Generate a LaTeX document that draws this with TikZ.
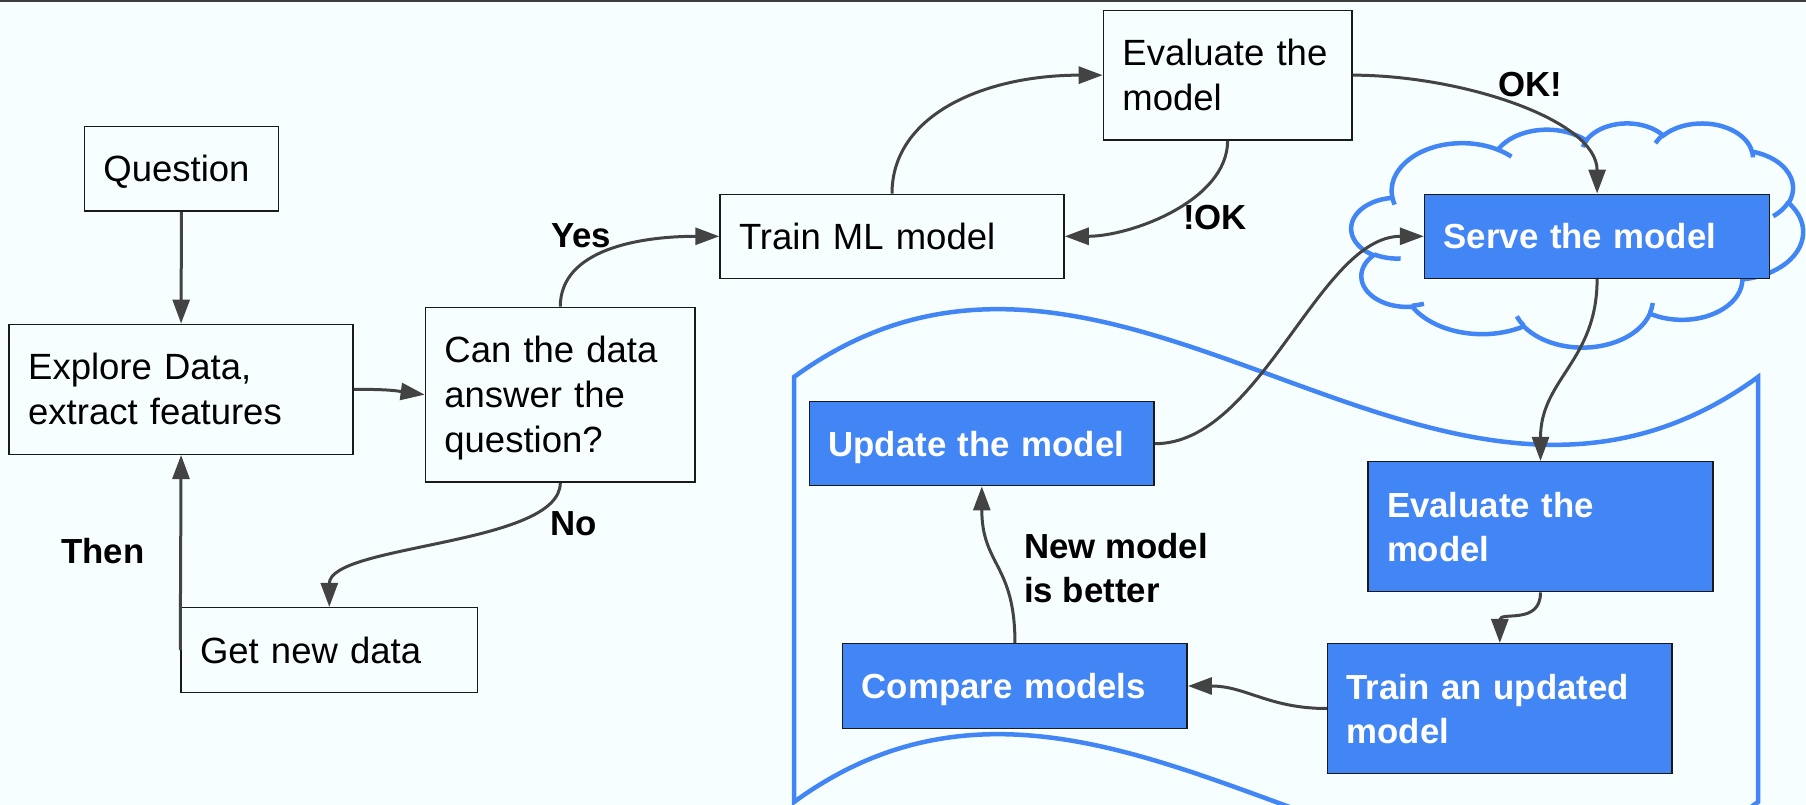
\documentclass[tikz,border=0pt]{standalone}
\usepackage{fontspec}
\setmainfont{Liberation Sans}
\usetikzlibrary{arrows.meta}

\definecolor{bg}{HTML}{F7FEFF}
\definecolor{gblue}{HTML}{4285F4}
\definecolor{arrowgray}{HTML}{434343}
\definecolor{edge}{HTML}{1A1A1A}
\definecolor{topline}{HTML}{3C3C3C}

% struts that centre the cap height of each line in its box
\newcommand\rstrut{\noindent\vrule width 0pt height 35.6pt depth 9.4pt\relax}
\newcommand\bstrut{\noindent\vrule width 0pt height 34.5pt depth 9.5pt\relax}

% cloud outline: arcs given with visual angles, turned into parametric ones
\newcommand\cloudang[5]{%
  \pgfmathsetmacro\cloudtmpa{atan2((#2)*sin(#4),(#3)*cos(#4))}%
  \pgfmathsetmacro\cloudtmpb{atan2((#2)*sin((#4)+(#5)),(#3)*cos((#4)+(#5)))}%
  \pgfmathsetmacro\cloudtmpd{mod(\cloudtmpb-\cloudtmpa+720,360)}%
  \expandafter\xdef\csname clS#1\endcsname{\cloudtmpa}%
  \expandafter\xdef\csname clD#1\endcsname{\cloudtmpd}%
}

\tikzset{
  plainbox/.style={draw=edge, line width=1.5pt, fill=bg, rectangle,
    inner xsep=19pt, inner ysep=0pt, align=left,
    font=\fontsize{36.5}{45}\selectfont,
    execute at begin node=\rstrut, execute at end node=\rstrut},
  bluebox/.style={draw=edge, line width=1.5pt, fill=gblue, text=white, rectangle,
    inner xsep=19pt, inner ysep=0pt, align=left,
    font=\fontsize{34.8}{44}\selectfont\bfseries,
    execute at begin node=\bstrut, execute at end node=\bstrut},
  tag/.style={inner sep=0pt, align=left,
    font=\fontsize{34.8}{44}\selectfont\bfseries,
    execute at begin node=\bstrut, execute at end node=\bstrut},
  flow/.style={draw=arrowgray, line width=3pt, -{Triangle[length=24pt,width=17pt]}},
  blueline/.style={draw=gblue, line width=4.5pt},
}

\begin{document}
\begin{tikzpicture}[x=1pt, y=-1pt]
\useasboundingbox (0,0) rectangle (1806,805);
\fill[bg] (0,0) rectangle (1806,805);
\draw[topline, line width=3.5pt] (0,0) -- (1806,0);

% punched-tape frame around the update loop
\draw[blueline] (794,377) .. controls (1116,142) and (1436,612) .. (1758,377)
  -- (1758,802) .. controls (1436,1037) and (1116,567) .. (794,802) -- cycle;

% cloud behind the serving step
\cloudang{a}{67.53}{91.90}{-190.4875}{123.7805}
\cloudang{b}{53.33}{72.67}{-144.1024}{89.9452}
\cloudang{c}{43.65}{59.45}{-145.8079}{99.7230}
\cloudang{d}{48.57}{65.95}{-130.9861}{117.2417}
\cloudang{e}{53.33}{72.73}{-78.7089}{109.0269}
\cloudang{f}{67.75}{92.20}{-46.2673}{130.2690}
\cloudang{g}{57.85}{78.67}{0.6250}{114.0333}
\cloudang{h}{67.52}{92.15}{22.4516}{115.1726}
\cloudang{i}{77.20}{105.43}{66.2426}{75.7110}
\cloudang{j}{43.60}{59.18}{-274.9421}{146.7356}
\cloudang{k}{43.45}{59.45}{-246.8285}{152.5189}
\cloudang{l}{43.45}{59.45}{86.7420}{26.4295}
\cloudang{m}{43.60}{59.18}{73.6105}{11.4475}
\cloudang{n}{67.52}{92.15}{137.6242}{14.0811}
\cloudang{o}{67.52}{92.15}{6.4533}{15.9984}
\cloudang{p}{57.85}{78.67}{-70.2924}{70.9174}
\cloudang{q}{53.33}{72.73}{30.3180}{27.7515}
\cloudang{r}{48.57}{65.95}{-13.7443}{14.8589}
\cloudang{s}{48.57}{65.95}{-149.1815}{18.1954}
\cloudang{t}{43.65}{59.45}{-163.4943}{17.6864}
\cloudang{u}{67.53}{91.90}{-66.7070}{12.3194}
\cloudang{v}{67.53}{91.90}{157.6544}{11.8582}
\begin{scope}[shift={(1351.5,122.7)}, x=1pt, y=1pt, xscale=1.04514, yscale=-0.5187]
  \draw[blueline] (39.00,143.70)
    arc[start angle=\clSa, delta angle=\clDa, x radius=67.53pt, y radius=91.90pt]
    arc[start angle=\clSb, delta angle=\clDb, x radius=53.33pt, y radius=72.67pt]
    arc[start angle=\clSc, delta angle=\clDc, x radius=43.65pt, y radius=59.45pt]
    arc[start angle=\clSd, delta angle=\clDd, x radius=48.57pt, y radius=65.95pt]
    arc[start angle=\clSe, delta angle=\clDe, x radius=53.33pt, y radius=72.73pt]
    arc[start angle=\clSf, delta angle=\clDf, x radius=67.75pt, y radius=92.20pt]
    arc[start angle=\clSg, delta angle=\clDg, x radius=57.85pt, y radius=78.67pt]
    arc[start angle=\clSh, delta angle=\clDh, x radius=67.52pt, y radius=92.15pt]
    arc[start angle=\clSi, delta angle=\clDi, x radius=77.20pt, y radius=105.43pt]
    arc[start angle=\clSj, delta angle=\clDj, x radius=43.60pt, y radius=59.18pt]
    arc[start angle=\clSk, delta angle=\clDk, x radius=43.45pt, y radius=59.45pt]
    -- cycle;
  \draw[blueline] (46.93,261.77) arc[start angle=\clSl, delta angle=\clDl, x radius=43.45pt, y radius=59.45pt];
  \draw[blueline] (69.28,348.99) arc[start angle=\clSm, delta angle=\clDm, x radius=43.60pt, y radius=59.18pt];
  \draw[blueline] (164.78,390.90) arc[start angle=\clSn, delta angle=\clDn, x radius=67.52pt, y radius=92.15pt];
  \draw[blueline] (288.27,347.51) arc[start angle=\clSo, delta angle=\clDo, x radius=67.52pt, y radius=92.15pt];
  \draw[blueline] (341.29,229.54) arc[start angle=\clSp, delta angle=\clDp, x radius=57.85pt, y radius=78.67pt];
  \draw[blueline] (417.98,153.54) arc[start angle=\clSq, delta angle=\clDq, x radius=53.33pt, y radius=72.73pt];
  \draw[blueline] (383.24,54.26) arc[start angle=\clSr, delta angle=\clDr, x radius=48.57pt, y radius=65.95pt];
  \draw[blueline] (290.78,39.52) arc[start angle=\clSs, delta angle=\clDs, x radius=48.57pt, y radius=65.95pt];
  \draw[blueline] (221.41,47.20) arc[start angle=\clSt, delta angle=\clDt, x radius=43.65pt, y radius=59.45pt];
  \draw[blueline] (140.00,51.92) arc[start angle=\clSu, delta angle=\clDu, x radius=67.53pt, y radius=91.90pt];
  \draw[blueline] (41.27,157.89) arc[start angle=\clSv, delta angle=\clDv, x radius=67.53pt, y radius=91.90pt];
\end{scope}

% steps of the first pass
\node[plainbox, minimum width=194pt, minimum height=84.3pt, text width=156pt] (question) at (181.4,168.85) {Question};
\node[plainbox, minimum width=343.8pt, minimum height=130pt, text width=305.8pt] (explore) at (181.1,389.3) {Explore Data,\\extract features};
\node[plainbox, minimum width=269.8pt, minimum height=174.7pt, text width=231.8pt] (can) at (560.3,394.65) {Can the data\\answer the\\question?};
\node[plainbox, minimum width=344pt, minimum height=84pt, text width=306pt] (train) at (892,236.3) {Train ML model};
\node[plainbox, minimum width=248.4pt, minimum height=129.7pt, text width=210.4pt] (evalone) at (1227.6,75.15) {Evaluate~the\\model};
\node[plainbox, minimum width=296.6pt, minimum height=84.6pt, text width=258.6pt] (getnew) at (329.3,650) {Get new data};

% serving and the update loop
\node[bluebox, minimum width=345pt, minimum height=84pt, text width=307pt] (serve) at (1597.1,236.3) {Serve the model};
\node[bluebox, minimum width=344.8pt, minimum height=84pt, text width=306.8pt] (update) at (981.8,443.7) {Update the model};
\node[bluebox, minimum width=345pt, minimum height=130pt, text width=307pt] (evaltwo) at (1540.5,526.7) {Evaluate the\\model};
\node[bluebox, minimum width=344.4pt, minimum height=129.6pt, text width=306.4pt] (trainup) at (1499.8,708.5) {Train~an~updated\\model};
\node[bluebox, minimum width=344.5pt, minimum height=84.6pt, text width=306.5pt] (compare) at (1014.95,686) {Compare models};

% edge labels
\node[tag] (yes) at (581,235) {Yes};
\node[tag] (no) at (574,523) {No};
\node[tag] (then) at (103,551) {Then};
\node[tag] (notok) at (1215,217) {!OK};
\node[tag] (ok) at (1530,84.5) {OK!};
\node[tag, anchor=west] (better) at (1024,572.4) {New model\\is better};

% connectors
\draw[flow] (question.south) -- (explore.north);
\draw[flow] (explore.east) .. controls +(35,0) and +(-30,-4) .. (can.west);
\draw[flow] (can.north) .. controls +(0,-57) and +(-80,0) .. (train.west);
\draw[flow] (can.south) .. controls +(0,63) and +(0,-63) .. (getnew.north);
\draw[flow] (getnew.west) -- (explore.south);
\draw[flow] (train.north) .. controls +(0,-79) and +(-118,0) .. (evalone.west);
\draw[flow] (evalone.south) .. controls +(0,60) and +(66,0) .. (train.east);
\draw[flow] (evalone.east) .. controls +(108,0) and +(0,-74) .. (serve.north);
\draw[flow] (serve.south) .. controls +(0,82) and +(0,-82) .. (evaltwo.north);
\draw[flow] (evaltwo.south) .. controls +(0,33) and +(0,-32) .. (trainup.north);
\draw[flow] (trainup.west) .. controls +(-58,0) and +(58,0) .. (compare.east);
\draw[flow] (compare.north) .. controls +(0,-79) and +(0,79) .. (update.south);
\draw[flow] (update.east) .. controls +(106,0) and +(-105,0) .. (serve.west);
\end{tikzpicture}
\end{document}
